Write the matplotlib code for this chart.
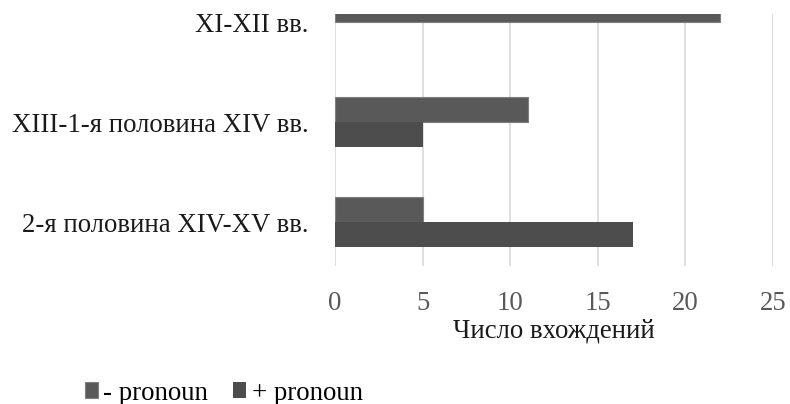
import matplotlib
matplotlib.use("Agg")
import matplotlib.pyplot as plt
from matplotlib import font_manager as fm
import numpy as np

# data
categories = ["XI-XII вв.", "XIII-1-я половина XIV вв.", "2-я половина XIV-XV вв."]
minus_pronoun = [22, 11, 5]
plus_pronoun = [0, 5, 17]
series_labels = ["- pronoun", "+ pronoun"]
x_ticks = [0, 5, 10, 15, 20, 25]

serif_file = fm.findfont('Liberation Serif')
fp = fm.FontProperties(fname=serif_file, size=19.3)

fig = plt.figure(figsize=(7.9, 4.04), dpi=100)
ax = fig.add_axes([335/790, 1-266/404, (773-335)/790, (266-14)/404])

y = np.arange(len(categories))
h = 0.25
ax.barh(y - h/2, minus_pronoun, height=h, color='#595959', edgecolor='#7f7f7f',
        linewidth=0.8, label=series_labels[0], zorder=3)
ax.barh(y + h/2, plus_pronoun, height=h, color='#4d4d4d', linewidth=0,
        label=series_labels[1], zorder=3)

ax.set_xlim(0, 25)
ax.set_ylim(2.44, -0.08)
ax.set_xticks(x_ticks)
ax.set_yticks(y)
ax.set_yticklabels(categories, fontproperties=fp, color='#1a1a1a')
ax.set_xticklabels([str(t) for t in x_ticks], fontproperties=fp, color='#595959')
ax.tick_params(axis='y', length=0, pad=19)
ax.tick_params(axis='x', length=0, pad=18)
ax.grid(axis='x', color='#d9d9d9', linewidth=1.2, zorder=0)
for s in ax.spines.values():
    s.set_visible(False)
ax.set_xlabel("Число вхождений", fontproperties=fp, color='#1a1a1a', labelpad=2)

fig.legend(loc='center left', bbox_to_anchor=(85/790, 1-393/404), ncol=2,
           frameon=False, prop=fp, handlelength=0.49, handleheight=0.49,
           handletextpad=0.2, columnspacing=0.93, borderpad=0, borderaxespad=0)

fig.savefig("out.png", dpi=100)
